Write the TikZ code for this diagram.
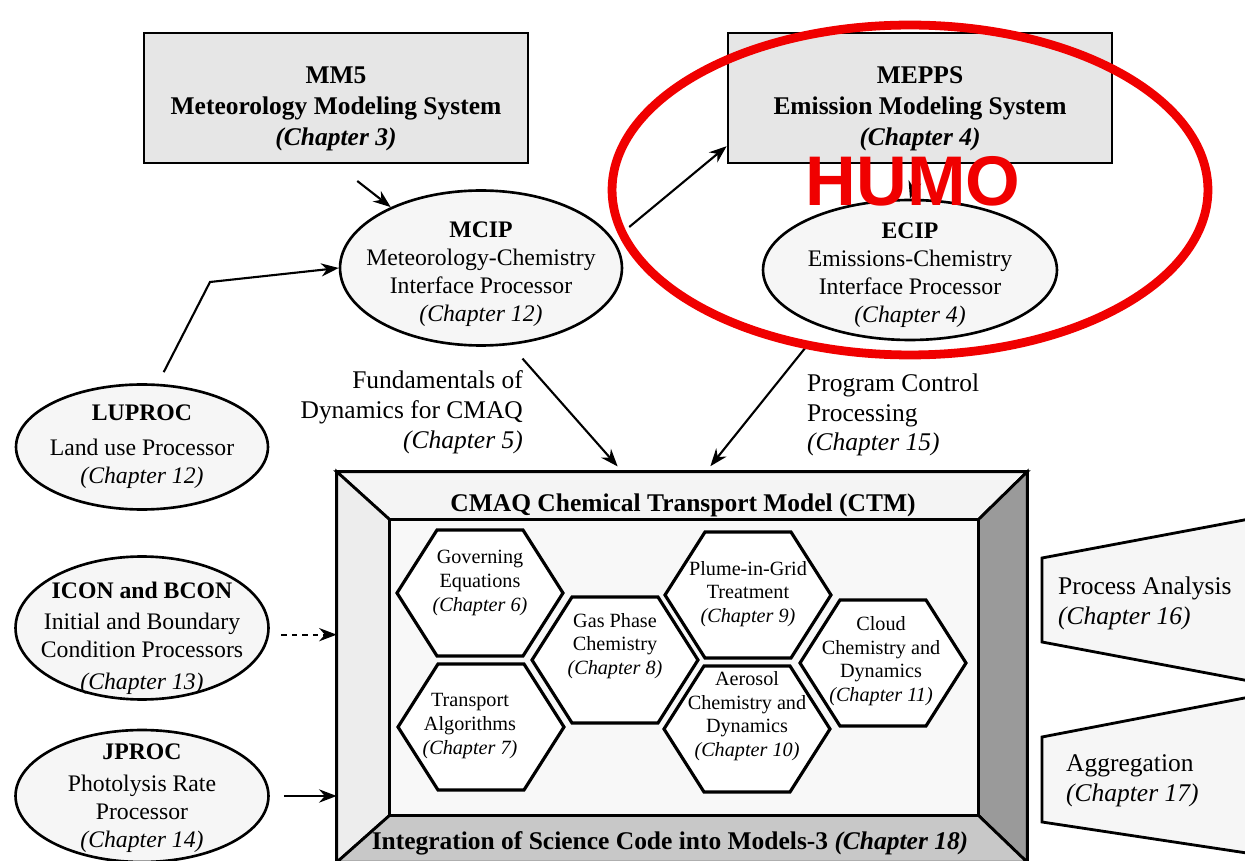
\documentclass[tikz,border=0pt]{standalone}
\usepackage{fontspec}
\setmainfont{Liberation Serif}
\newfontfamily\stampfont{Liberation Sans}
\usetikzlibrary{shapes.geometric,arrows.meta,calc}

\definecolor{boxgray}{HTML}{E6E6E6}
\definecolor{procfill}{HTML}{F6F6F6}
\definecolor{bandtop}{HTML}{F4F4F4}
\definecolor{bandleft}{HTML}{EDEDED}
\definecolor{bandright}{HTML}{9A9A9A}
\definecolor{bandbottom}{HTML}{C8C8C8}
\definecolor{innerfill}{HTML}{F8F8F8}
\definecolor{stampred}{HTML}{F00000}

\begin{document}
\begin{tikzpicture}[x=0.02cm,y=-0.02cm,>={Stealth[length=10pt,width=7.5pt]},
  sysbox/.style={draw, line width=1.6pt, fill=boxgray, minimum width=7.68cm, minimum height=2.6cm},
  systext/.style={align=center, font=\bfseries\fontsize{14.5}{17.5}\selectfont},
  proc/.style={ellipse, draw, line width=1.5pt, fill=procfill, inner sep=0pt},
  proctext/.style={align=center, font=\fontsize{13.5}{16}\selectfont},
  flow/.style={->, line width=1.2pt},
  note/.style={font=\fontsize{14.5}{17}\selectfont},
  band/.style={draw, line width=1.6pt},
  hexline/.style={draw, line width=1.8pt, fill=white, line join=miter},
  hextext/.style={align=center, font=\fontsize{11.5}{13.4}\selectfont},
  ctmtitle/.style={font=\bfseries\fontsize{14.5}{17}\selectfont},
  side/.style={draw, line width=1.6pt, fill=procfill}]

\useasboundingbox (0,0) rectangle (1245,861);
\clip (0,0) rectangle (1245,861);
\fill[white] (0,0) rectangle (1245,861);

% upstream systems
\node[sysbox, label={[systext,yshift=-0.22cm]center:{MM5\\Meteorology Modeling System\\\textit{(Chapter 3)}}}] (mm5) at (336,98) {};
\node[sysbox, label={[systext,yshift=-0.22cm]center:{MEPPS\\Emission Modeling System\\\textit{(Chapter 4)}}}] (mepps) at (920,98) {};

% interface processors
\node[proc, minimum width=5.64cm, minimum height=3.1cm,
  label={[proctext,yshift=-0.12cm]center:{\textbf{MCIP}\\Meteorology-Chemistry\\Interface Processor\\\textit{(Chapter 12)}}}] (mcip) at (481,268) {};
\node[proc, minimum width=5.88cm, minimum height=2.8cm,
  label={[proctext,yshift=-0.1cm]center:{\textbf{ECIP}\\Emissions-Chemistry\\Interface Processor\\\textit{(Chapter 4)}}}] (ecip) at (910,270) {};
\node[proc, minimum width=5.04cm, minimum height=2.5cm,
  label={[proctext]center:{\textbf{LUPROC}\\[4pt]Land use Processor\\\textit{(Chapter 12)}}}] (luproc) at (142,447) {};
\node[proc, minimum width=5.06cm, minimum height=2.86cm,
  label={[proctext,yshift=-0.2cm]center:{\textbf{ICON and BCON}\\[2pt]Initial and Boundary\\Condition Processors\\[2pt]\textit{(Chapter 13)}}}] (icon) at (142,628) {};
\node[proc, minimum width=5.06cm, minimum height=2.64cm,
  label={[proctext,yshift=-0.05cm]center:{\textbf{JPROC}\\[2pt]Photolysis Rate\\Processor\\\textit{(Chapter 14)}}}] (jproc) at (142,796) {};

% CTM frame
\path node[minimum width=13.8cm, minimum height=7.8cm] (ctm) at (682,667) {};
\path node[minimum width=11.76cm, minimum height=5.9cm] (ctmin) at (684,667.5) {};
\draw[band, fill=bandtop] (ctm.north west) -- (ctm.north east) -- (ctmin.north east) -- (ctmin.north west) -- cycle;
\draw[band, fill=bandleft] (ctm.north west) -- (ctmin.north west) -- (ctmin.south west) -- (ctm.south west) -- cycle;
\draw[band, fill=bandright] (ctm.north east) -- (ctmin.north east) -- (ctmin.south east) -- (ctm.south east) -- cycle;
\draw[band, fill=bandbottom] (ctm.south west) -- (ctmin.south west) -- (ctmin.south east) -- (ctm.south east) -- cycle;
\draw[band, fill=innerfill] (ctmin.north west) rectangle (ctmin.south east);
\draw[line width=1.8pt] (ctm.north west) rectangle (ctm.south east);
\node[ctmtitle] (ctmtop) at (683,505) {CMAQ Chemical Transport Model (CTM)};
\node[ctmtitle] (ctmbottom) at (670,843) {Integration of Science Code into Models-3 \textit{(Chapter 18)}};

% science modules
\foreach \cx/\cy in {480/593, 615/660, 748/595, 883/663, 481/727, 747/729}
  \draw[hexline] (\cx-83,\cy) -- ++(40,-63) -- ++(86,0) -- ++(40,63) -- ++(-40,63) -- ++(-86,0) -- cycle;
\node[hextext] (gov) at (480,583) {Governing\\Equations\\\textit{(Chapter 6)}};
\node[hextext] (gas) at (615,646) {Gas Phase\\Chemistry\\\textit{(Chapter 8)}};
\node[hextext] (plume) at (748,594) {Plume-in-Grid\\Treatment\\\textit{(Chapter 9)}};
\node[hextext] (cloud) at (881,661) {Cloud\\Chemistry and\\Dynamics\\\textit{(Chapter 11)}};
\node[hextext] (trans) at (470,726) {Transport\\Algorithms\\\textit{(Chapter 7)}};
\node[hextext] (aero) at (747,716) {Aerosol\\Chemistry and\\Dynamics\\\textit{(Chapter 10)}};

% analysis outputs
\draw[side] (1042,558) -- (1260,517) -- (1260,683) -- (1042,642) -- cycle;
\draw[side] (1042,737) -- (1260,695) -- (1260,855) -- (1042,822) -- cycle;
\node[note, anchor=west, align=left] (pa) at (1052,603) {Process Analysis\\\textit{(Chapter 16)}};
\node[note, anchor=west, align=left] (agg) at (1060,781) {Aggregation\\\textit{(Chapter 17)}};

% labels on the links
\node[note, anchor=east, align=right] (dyn) at (529,412) {Fundamentals of\\Dynamics for CMAQ\\\textit{(Chapter 5)}};
\node[note, anchor=west, align=left] (pcp) at (801,415) {Program Control\\Processing\\\textit{(Chapter 15)}};

% data flow
\coordinate (lubend) at (210,282);
\draw[flow, shorten <=0.54cm] (mm5.south) -- (mcip.146);
\draw[flow, shorten <=0.26cm] (luproc.76) -- (lubend) -- (mcip.west);
\draw[flow, shorten <=0.4cm] (mcip.12) -- (mepps.194);
\draw[flow, shorten <=0.15cm] (mepps.south) -- (ecip.north);
\draw[flow, shorten <=0.36cm, shorten >=0.14cm] (mcip.-69) -- (ctm.107.6);
\draw[flow, shorten <=0.5cm, shorten >=0.14cm] (ecip.213) -- (ctm.83.3);
\draw[flow, dashed, shorten <=0.24cm] (icon.-3) -- (icon.-3 -| ctm.west);
\draw[->, line width=1.6pt, shorten <=0.28cm] (jproc.east) -- (jproc.east -| ctm.west);

% stamp
\draw[stampred, line width=5pt] (910,190) ellipse [x radius=5.96cm, y radius=3.3cm];
\node[text=stampred, font=\stampfont\bfseries\fontsize{40}{40}\selectfont] (humo) at (913,181) {HUMO};
\end{tikzpicture}
\end{document}
